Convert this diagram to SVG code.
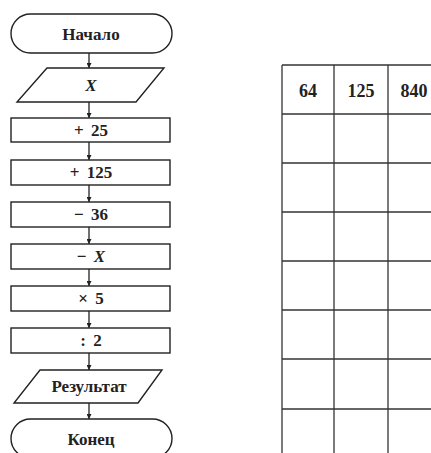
<svg xmlns="http://www.w3.org/2000/svg" width="431" height="453" viewBox="0 0 431 453">
<style>
.s{fill:#fff;stroke:#222;stroke-width:1.4}
.t{font-family:"Liberation Serif","DejaVu Serif",serif;font-weight:bold;font-size:17px;fill:#222;text-anchor:middle;word-spacing:3px}
.i{font-style:italic}
.n{font-size:18px}
.c{stroke:#222;stroke-width:1.3;fill:none}
.g{stroke:#333;stroke-width:1.3}
</style>
<defs>
<marker id="ah" viewBox="0 0 8 8" refX="8" refY="4" markerWidth="5" markerHeight="5" markerUnits="userSpaceOnUse" orient="auto">
<path d="M0,0L8,4L0,8z" fill="#222"/>
</marker>
</defs>
<rect width="431" height="453" fill="#fff"/>
<g id="connectors">
<line class="c" x1="89" y1="53" x2="89" y2="68" marker-end="url(#ah)"/>
<line class="c" x1="89" y1="102" x2="89" y2="118" marker-end="url(#ah)"/>
<line class="c" x1="89" y1="142" x2="89" y2="160" marker-end="url(#ah)"/>
<line class="c" x1="89" y1="185" x2="89" y2="202" marker-end="url(#ah)"/>
<line class="c" x1="89" y1="227" x2="89" y2="244" marker-end="url(#ah)"/>
<line class="c" x1="89" y1="269" x2="89" y2="286" marker-end="url(#ah)"/>
<line class="c" x1="89" y1="311" x2="89" y2="328" marker-end="url(#ah)"/>
<line class="c" x1="89" y1="353" x2="89" y2="370" marker-end="url(#ah)"/>
<line class="c" x1="89" y1="403" x2="89" y2="419" marker-end="url(#ah)"/>
</g>
<g id="start"><rect class="s" x="11" y="14" width="161" height="39" rx="19.5"/><text class="t" x="91" y="40">Начало</text></g>
<g id="input"><polygon class="s" points="47,68 164,68 136,102 17,102"/><text class="t i" x="91" y="91">X</text></g>
<g id="op1"><rect class="s" x="11" y="118" width="159" height="24"/><text class="t" x="91" y="136">+ 25</text></g>
<g id="op2"><rect class="s" x="11" y="160" width="159" height="25"/><text class="t" x="91" y="178">+ 125</text></g>
<g id="op3"><rect class="s" x="11" y="202" width="159" height="25"/><text class="t" x="91" y="220">− 36</text></g>
<g id="op4"><rect class="s" x="11" y="244" width="159" height="25"/><text class="t" x="91" y="262">− <tspan class="i">X</tspan></text></g>
<g id="op5"><rect class="s" x="11" y="286" width="159" height="25"/><text class="t" x="91" y="304">× 5</text></g>
<g id="op6"><rect class="s" x="11" y="328" width="159" height="25"/><text class="t" x="91" y="346">: 2</text></g>
<g id="output"><polygon class="s" points="40,370 162,370 138,403 14,403"/><text class="t" x="89" y="392">Результат</text></g>
<g id="end"><rect class="s" x="11" y="419" width="161" height="39" rx="19.5"/><text class="t" x="91" y="445">Конец</text></g>
<g id="table">
<line class="g" x1="282" y1="65" x2="431" y2="65"/>
<line class="g" x1="282" y1="114" x2="431" y2="114"/>
<line class="g" x1="282" y1="163" x2="431" y2="163"/>
<line class="g" x1="282" y1="212" x2="431" y2="212"/>
<line class="g" x1="282" y1="261" x2="431" y2="261"/>
<line class="g" x1="282" y1="310" x2="431" y2="310"/>
<line class="g" x1="282" y1="359" x2="431" y2="359"/>
<line class="g" x1="282" y1="409" x2="431" y2="409"/>
<line class="g" x1="282" y1="65" x2="282" y2="453"/>
<line class="g" x1="334" y1="65" x2="334" y2="453"/>
<line class="g" x1="388" y1="65" x2="388" y2="453"/>
<text class="t n" x="308" y="97">64</text>
<text class="t n" x="361" y="97">125</text>
<text class="t n" x="414" y="97">840</text>
</g>
</svg>
